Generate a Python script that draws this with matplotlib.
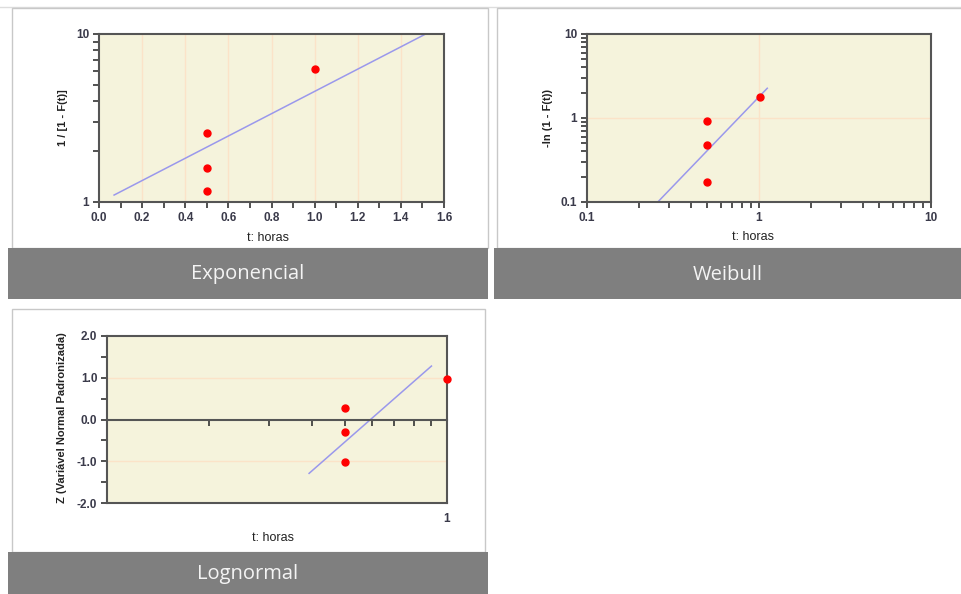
import matplotlib.pyplot as plt
from matplotlib.patches import Rectangle
from matplotlib.ticker import FixedLocator, NullFormatter, NullLocator

W, H = 962, 594

# dados
exp_t = [0.5, 0.5, 0.5, 1.0]
exp_y = [1.16, 1.59, 2.58, 6.2]
exp_line_t = [0.07, 1.515]
exp_line_y = [1.1, 10.0]

wei_t = [0.5, 0.5, 0.5, 1.01]
wei_y = [0.92, 0.48, 0.171, 1.79]
wei_line_t = [0.258, 1.117]
wei_line_y = [0.1, 2.26]

logn_t = [0.5, 0.5, 0.5, 1.0]
logn_z = [0.28, -0.30, -1.01, 0.98]
logn_line_t = [0.393, 0.90]
logn_line_z = [-1.29, 1.28]

titles = ["Exponencial", "Weibull", "Lognormal"]
xlabel = "t: horas"
ylabels = ["1 / [1 - F(t)]", "-ln (1 - F(t))", "Z (Variável Normal Padronizada)"]

BG = "#f5f3dc"
GRID = "#fbe3c8"
SPINE = "#555555"
TXT = "#3a3a4a"
LINE = "#9a98ec"
BAND = "#7f7f7f"

plt.rcParams["font.family"] = ["Liberation Sans", "DejaVu Sans"]

fig = plt.figure(figsize=(W / 100, H / 100), dpi=100)


def rect(x0, y0, x1, y1, **kw):
    # caixa em pixels (y a partir do topo)
    fig.patches.append(Rectangle((x0 / W, 1 - y1 / H), (x1 - x0) / W, (y1 - y0) / H,
                                 transform=fig.transFigure, zorder=-10, **kw))


def axes_px(x0, y0, x1, y1):
    return fig.add_axes([x0 / W, 1 - y1 / H, (x1 - x0) / W, (y1 - y0) / H])


def txt_px(x, y, s, **kw):
    fig.text(x / W, 1 - y / H, s, ha="center", va="center", **kw)


def frame(x0, y0, x1, y1, bx0, bx1, by1, title):
    rect(x0, y0, x1, y1, facecolor="white", edgecolor="#c8c8c8", lw=1)
    rect(bx0, y1, bx1, by1, facecolor=BAND, edgecolor="none")
    txt_px((bx0 + bx1) / 2, (y1 + by1) / 2 + 1, title, color="#f4f4f4",
           fontsize=14.5, family=["Open Sans", "DejaVu Sans"])


fig.add_artist(plt.Line2D([0, 1], [1 - 7 / H, 1 - 7 / H], color="#dddddd", lw=1, zorder=-10))
frame(12, 8, 488, 248, 8, 488, 299, titles[0])
frame(497, 8, 962, 248, 494, 962, 299, titles[1])
frame(12, 309, 485, 552, 8, 488, 594, titles[2])


def style(ax):
    ax.set_facecolor(BG)
    for s in ax.spines.values():
        s.set_color(SPINE)
        s.set_linewidth(1.5)
    ax.tick_params(which="both", direction="out", length=4, width=1.2, color="#333333",
                   labelsize=8.5, labelcolor=TXT, pad=3)
    for lb in ax.get_xticklabels() + ax.get_yticklabels():
        lb.set_fontweight("bold")


# Exponencial
ax1 = axes_px(99, 34, 444, 202)
ax1.set_yscale("log")
ax1.set_xlim(0, 1.6)
ax1.set_ylim(1, 10)
ax1.set_xticks([0.0, 0.2, 0.4, 0.6, 0.8, 1.0, 1.2, 1.4, 1.6])
ax1.set_xticklabels(["0.0", "0.2", "0.4", "0.6", "0.8", "1.0", "1.2", "1.4", "1.6"])
ax1.xaxis.set_minor_locator(FixedLocator([0.1, 0.3, 0.5, 0.7, 0.9, 1.1, 1.3, 1.5]))
ax1.set_yticks([1, 10])
ax1.set_yticklabels(["1", "10"])
ax1.yaxis.set_minor_locator(FixedLocator([2, 3, 4, 5, 6, 7, 8, 9]))
ax1.yaxis.set_minor_formatter(NullFormatter())
for v in [0.2, 0.4, 0.6, 0.8, 1.0, 1.2, 1.4]:
    ax1.axvline(v, color=GRID, lw=1, zorder=0)
ax1.plot(exp_line_t, exp_line_y, color=LINE, lw=1.1, zorder=2)
ax1.plot(exp_t, exp_y, "o", color="red", ms=5, mec="red", zorder=3)
style(ax1)
txt_px(268, 238, xlabel, fontsize=9, color="#222222")
txt_px(63, 118, ylabels[0], fontsize=8, color="#222222", rotation=90, fontweight="bold")

# Weibull
ax2 = axes_px(587, 34, 931, 202)
ax2.set_xscale("log")
ax2.set_yscale("log")
ax2.set_xlim(0.1, 10)
ax2.set_ylim(0.1, 10)
ax2.set_xticks([0.1, 1, 10])
ax2.set_xticklabels(["0.1", "1", "10"])
ax2.set_yticks([0.1, 1, 10])
ax2.set_yticklabels(["0.1", "1", "10"])
mn = [k * d for d in (0.1, 1) for k in range(2, 10)]
ax2.xaxis.set_minor_locator(FixedLocator(mn))
ax2.yaxis.set_minor_locator(FixedLocator(mn))
ax2.xaxis.set_minor_formatter(NullFormatter())
ax2.yaxis.set_minor_formatter(NullFormatter())
ax2.axvline(1, color=GRID, lw=1, zorder=0)
ax2.axhline(1, color=GRID, lw=1, zorder=0)
ax2.plot(wei_line_t, wei_line_y, color=LINE, lw=1.1, zorder=2)
ax2.plot(wei_t, wei_y, "o", color="red", ms=5, mec="red", zorder=3)
style(ax2)
txt_px(753, 237, xlabel, fontsize=9, color="#222222")
txt_px(548, 118, ylabels[1], fontsize=8, color="#222222", rotation=90, fontweight="bold")

# Lognormal
ax3 = axes_px(107, 336, 447, 503)
ax3.set_xscale("log")
ax3.set_xlim(0.1, 1)
ax3.set_ylim(-2, 2)
ax3.set_yticks([-2, -1, 0, 1, 2])
ax3.set_yticklabels(["-2.0", "-1.0", "0.0", "1.0", "2.0"])
ax3.yaxis.set_minor_locator(FixedLocator([-1.5, -0.5, 0.5, 1.5]))
ax3.set_xticks([0.2, 0.3, 0.4, 0.5, 0.6, 0.7, 0.8, 0.9])
ax3.set_xticklabels([])
ax3.xaxis.set_minor_locator(NullLocator())
ax3.spines["bottom"].set_position(("data", 0))
ax3.axhline(-2, color=SPINE, lw=1.5, clip_on=False, zorder=5)
for v in [-1, 1]:
    ax3.axhline(v, color=GRID, lw=1, zorder=0)
ax3.plot(logn_line_t, logn_line_z, color=LINE, lw=1.1, zorder=2)
ax3.plot(logn_t, logn_z, "o", color="red", ms=5, mec="red", zorder=6, clip_on=False)
ax3.text(1, -2.25, "1", ha="center", va="top", fontsize=8.5, fontweight="bold", color=TXT)
style(ax3)
txt_px(273, 538, xlabel, fontsize=9, color="#222222")
txt_px(62, 418, ylabels[2], fontsize=8, color="#222222", rotation=90, fontweight="bold")

fig.savefig("out.png", dpi=100)
